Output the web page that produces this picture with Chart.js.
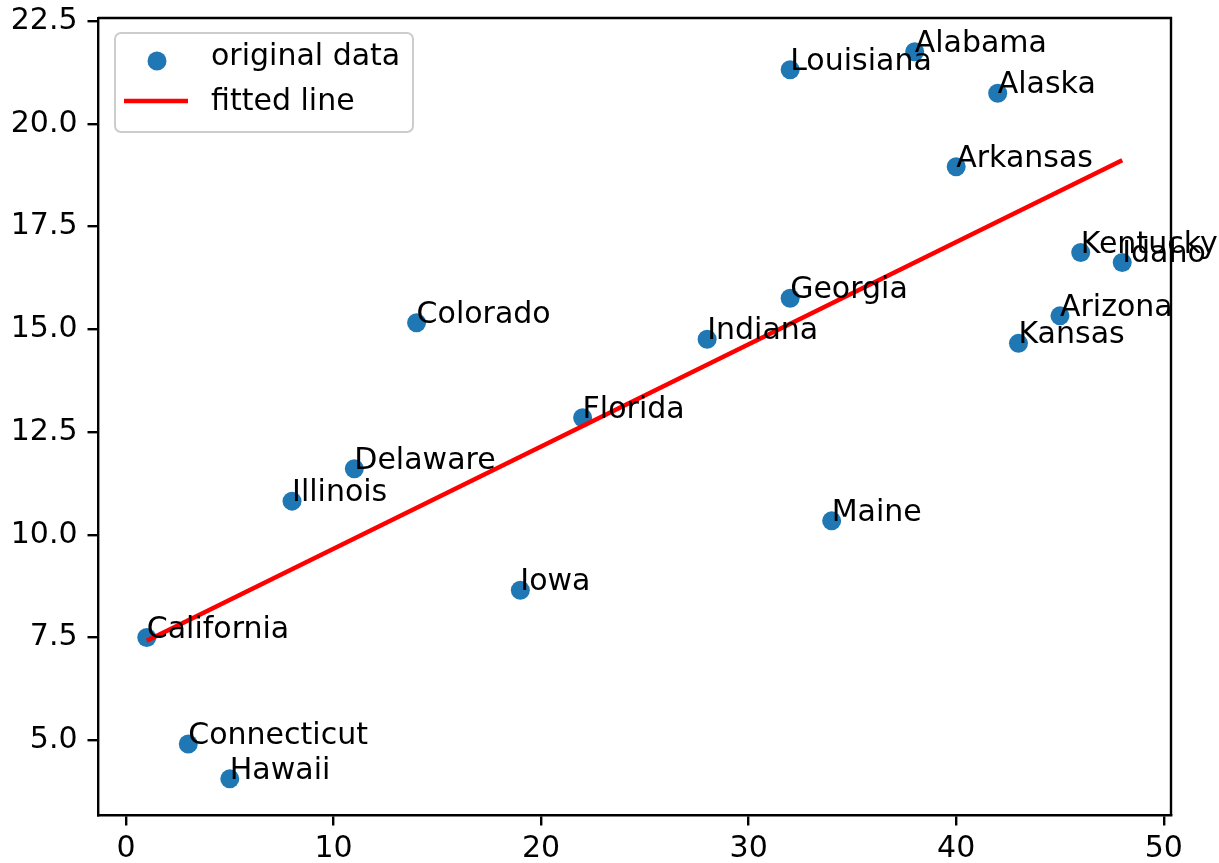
<!DOCTYPE html>
<html>
<head>
<meta charset="utf-8">
<script src="https://cdn.jsdelivr.net/npm/chart.js@4.4.0/dist/chart.umd.min.js"></script>
<style>
    html, body { margin: 0; padding: 0; background: #fff; }
    #wrap { width: 1219px; height: 863px; }
</style>
</head>
<body>
<div id="wrap"><canvas id="chart" width="1219" height="863"></canvas></div>
<script>
// data
const states = ['California', 'Connecticut', 'Hawaii', 'Illinois', 'Delaware', 'Colorado', 'Iowa', 'Florida',
    'Indiana', 'Georgia', 'Louisiana', 'Maine', 'Alabama', 'Arkansas', 'Alaska', 'Kansas', 'Arizona', 'Kentucky', 'Idaho'];
const xValues = [1, 3, 5, 8, 11, 14, 19, 22, 28, 32, 32, 34, 38, 40, 42, 43, 45, 46, 48];
const yValues = [7.50, 4.91, 4.06, 10.82, 11.61, 15.16, 8.65, 12.85, 14.76, 15.76, 21.32, 10.34, 21.76, 18.96, 20.75, 14.66, 15.33, 16.87, 16.63];

// fitted line end points
const fitX = [1, 48];
const fitY = [7.42, 19.12];

const xTicks = [0, 10, 20, 30, 40, 50];
const yTicks = [5.0, 7.5, 10.0, 12.5, 15.0, 17.5, 20.0, 22.5];

const FONT = 'DejaVu Sans';
const DOT_COLOR = '#1f77b4';

// state names next to each point (matplotlib annotate style: left / baseline)
const pointLabels = {
    id: 'pointLabels',
    afterDatasetsDraw(chart) {
        const ctx = chart.ctx;
        const meta = chart.getDatasetMeta(0);
        ctx.save();
        ctx.font = `30px "${FONT}"`;
        ctx.fillStyle = '#000';
        ctx.textAlign = 'left';
        ctx.textBaseline = 'alphabetic';
        meta.data.forEach((pt, i) => ctx.fillText(states[i], pt.x, pt.y));
        ctx.restore();
    }
};

// top and right spines + legend box in the upper left corner
const frameAndLegend = {
    id: 'frameAndLegend',
    afterDraw(chart) {
        const ctx = chart.ctx;
        const a = chart.chartArea;
        ctx.save();
        ctx.strokeStyle = '#000';
        ctx.lineWidth = 2.4;
        ctx.beginPath();
        ctx.moveTo(a.left, a.top);
        ctx.lineTo(a.right, a.top);
        ctx.lineTo(a.right, a.bottom);
        ctx.stroke();

        const bx = a.left + 17, by = a.top + 15, bw = 298, bh = 99;
        ctx.beginPath();
        ctx.roundRect(bx, by, bw, bh, 6);
        ctx.fillStyle = 'rgba(255,255,255,0.8)';
        ctx.fill();
        ctx.strokeStyle = '#cccccc';
        ctx.lineWidth = 2;
        ctx.stroke();

        const ds = chart.data.datasets;
        // scatter entry
        ctx.beginPath();
        ctx.arc(bx + 42, by + 28, 9.5, 0, Math.PI * 2);
        ctx.fillStyle = ds[0].backgroundColor;
        ctx.fill();
        // line entry
        ctx.beginPath();
        ctx.moveTo(bx + 9, by + 68);
        ctx.lineTo(bx + 73, by + 68);
        ctx.strokeStyle = ds[1].borderColor;
        ctx.lineWidth = 4.5;
        ctx.stroke();

        ctx.font = `30px "${FONT}"`;
        ctx.fillStyle = '#000';
        ctx.textAlign = 'left';
        ctx.textBaseline = 'alphabetic';
        ctx.fillText(ds[0].label, bx + 96, by + 32);
        ctx.fillText(ds[1].label, bx + 96, by + 77);
        ctx.restore();
    }
};

const axisCommon = {
    type: 'linear',
    grid: { display: true, drawOnChartArea: false, drawTicks: true, tickLength: 10.5, color: '#000', lineWidth: 2.4 },
    border: { display: true, color: '#000', width: 2.4 },
};

const ctx = document.getElementById('chart').getContext('2d');
new Chart(ctx, {
    type: 'scatter',
    data: {
        datasets: [
            {
                label: 'original data',
                data: xValues.map((x, i) => ({ x: x, y: yValues[i] })),
                backgroundColor: DOT_COLOR,
                borderWidth: 0,
                pointRadius: 9.5,
                pointHoverRadius: 9.5,
                order: 1
            },
            {
                label: 'fitted line',
                data: fitX.map((x, i) => ({ x: x, y: fitY[i] })),
                showLine: true,
                borderColor: 'red',
                backgroundColor: 'red',
                borderWidth: 4.5,
                pointRadius: 0,
                fill: false,
                tension: 0,
                order: 0
            }
        ]
    },
    options: {
        responsive: false,
        animation: false,
        devicePixelRatio: 1,
        layout: { padding: { top: 18, right: 48, left: 0, bottom: 0 } },
        plugins: { legend: { display: false }, tooltip: { enabled: false } },
        scales: {
            x: {
                ...axisCommon,
                min: -1.35,
                max: 50.35,
                afterBuildTicks: (scale) => { scale.ticks = xTicks.map(v => ({ value: v })); },
                afterFit: (scale) => {
                    scale.height = 48;
                    scale.paddingLeft = 0;
                    scale.paddingRight = 0;
                },
                ticks: {
                    autoSkip: false, maxRotation: 0, padding: 6,
                    color: '#000', font: { family: FONT, size: 30 },
                    callback: (v) => String(v)
                }
            },
            y: {
                ...axisCommon,
                min: 3.18,
                max: 22.58,
                afterBuildTicks: (scale) => { scale.ticks = yTicks.map(v => ({ value: v })); },
                afterFit: (scale) => {
                    scale.width = 98;
                    // let the top label hang over the padding like matplotlib does
                    scale.paddingTop = 0;
                    scale.paddingBottom = 0;
                },
                ticks: {
                    autoSkip: false, padding: 10,
                    color: '#000', font: { family: FONT, size: 30 },
                    callback: (v) => Number(v).toFixed(1)
                }
            }
        }
    },
    plugins: [pointLabels, frameAndLegend]
});
</script>
</body>
</html>
